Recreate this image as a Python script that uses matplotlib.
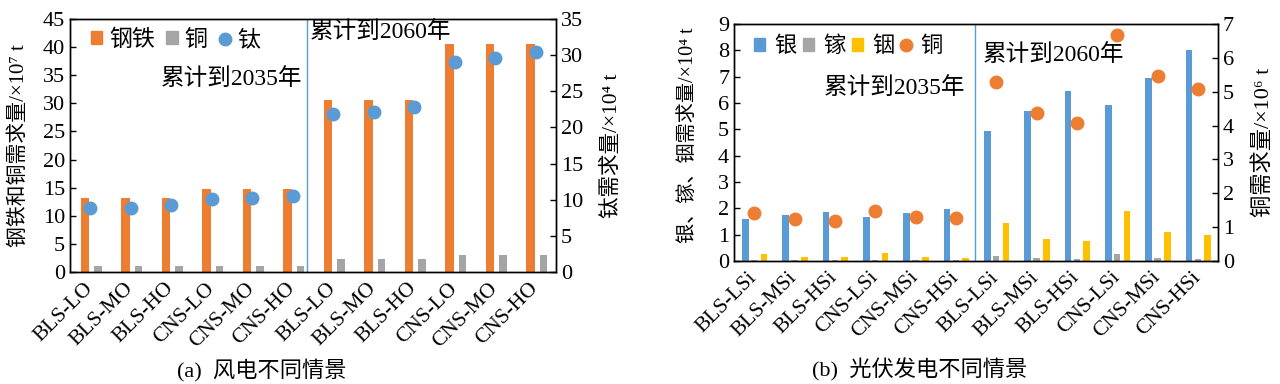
import matplotlib
matplotlib.use("Agg")
import matplotlib.pyplot as plt
import matplotlib.transforms as mtransforms
import numpy as np
from matplotlib.lines import Line2D
from matplotlib.patches import Patch

plt.rcParams['font.family'] = ['Liberation Serif', 'Noto Sans CJK SC']
plt.rcParams['font.size'] = 16

# (a) wind power scenarios
wind_labels = ['BLS-LO', 'BLS-MO', 'BLS-HO', 'CNS-LO', 'CNS-MO', 'CNS-HO'] * 2
steel = [13.2, 13.2, 13.2, 14.8, 14.8, 14.8, 30.6, 30.6, 30.6, 40.5, 40.5, 40.5]
copper_w = [1.0, 1.0, 1.0, 1.1, 1.1, 1.1, 2.4, 2.4, 2.4, 3.1, 3.1, 3.1]
titanium = [8.9, 8.9, 9.3, 10.1, 10.2, 10.5, 21.9, 22.2, 22.8, 29.0, 29.6, 30.5]

# (b) photovoltaic scenarios
pv_labels = ['BLS-LSi', 'BLS-MSi', 'BLS-HSi', 'CNS-LSi', 'CNS-MSi', 'CNS-HSi'] * 2
silver = [1.58, 1.75, 1.87, 1.68, 1.81, 1.98, 4.92, 5.68, 6.46, 5.93, 6.96, 8.02]
gallium = [0.02, 0.02, 0.02, 0.03, 0.02, 0.02, 0.20, 0.10, 0.07, 0.28, 0.13, 0.09]
indium = [0.27, 0.16, 0.15, 0.29, 0.16, 0.13, 1.43, 0.85, 0.76, 1.91, 1.11, 0.99]
copper_pv = [1.41, 1.24, 1.19, 1.49, 1.31, 1.26, 5.28, 4.37, 4.09, 6.67, 5.45, 5.08]

ORANGE = '#ED7D31'
GREY = '#A5A5A5'
BLUE = '#5B9BD5'
YELLOW = '#FFC000'

fig = plt.figure(figsize=(12.8, 3.84), dpi=100)


def style(ax, ax2, labels):
    for a in (ax, ax2):
        a.tick_params(direction='in', length=4, width=1, labelsize=16)
        for s in a.spines.values():
            s.set_linewidth(1.0)
    ax.set_xlim(-0.5, 11.5)
    ax.set_xticks(np.arange(len(labels)))
    ax.set_xticklabels(labels, rotation=45, ha='right', rotation_mode='anchor',
                       fontsize=15.5)
    ax.tick_params(axis='x', length=0, pad=5)
    # shift the rotated labels a bit to the left, like Excel does
    shift = mtransforms.ScaledTranslation(-7 / 100, 0, fig.dpi_scale_trans)
    for lab in ax.get_xticklabels():
        lab.set_transform(lab.get_transform() + shift)


# ---- panel (a)
ax = fig.add_axes([70 / 1280, 112 / 384, 486 / 1280, 253 / 384])
x = np.arange(len(wind_labels))
ax.bar(x - 0.13, steel, width=0.21, color=ORANGE)
ax.bar(x + 0.19, copper_w, width=0.18, color=GREY)
ax.set_ylim(0, 45)
ax.set_yticks(range(0, 46, 5))
ax.set_ylabel('钢铁和铜需求量/×10⁷ t', fontsize=15)
ax.yaxis.set_label_coords(-0.084, 0.5)
ax.axvline(5.34, color=BLUE, lw=1)
ax2 = ax.twinx()
ax2.plot(x, titanium, 'o', color=BLUE, ms=9)
ax2.set_ylim(0, 35)
ax2.set_yticks(range(0, 36, 5))
ax2.set_ylabel('钛需求量/×10⁴ t', fontsize=15.5)
ax2.yaxis.set_label_coords(1.095, 0.5)
style(ax, ax2, wind_labels)
ax.text(5.23, 34.3, '累计到2035年', ha='right', va='center', fontsize=17)
ax.text(5.43, 42.7, '累计到2060年', ha='left', va='center', fontsize=17)
handles = [Patch(color=ORANGE), Patch(color=GREY),
           Line2D([], [], marker='o', ls='', color=BLUE, ms=9)]
ax.legend(handles, ['钢铁', '铜', '钛'], loc='upper left', ncol=3, frameon=False,
          handlelength=0.5, handleheight=0.5, handletextpad=0.3,
          columnspacing=0.5, fontsize=16.5, bbox_to_anchor=(0.0, 1.04))
fig.text(262 / 1280, 1 - 370 / 384, '(a)  风电不同情景', ha='center', va='center', fontsize=16)

# ---- panel (b)
bx = fig.add_axes([734 / 1280, 123 / 384, 484 / 1280, 237 / 384])
x = np.arange(len(pv_labels))
bx.bar(x - 0.22, silver, width=0.165, color=BLUE)
bx.bar(x + 0.0, gallium, width=0.165, color=GREY)
bx.bar(x + 0.24, indium, width=0.165, color=YELLOW)
bx.set_ylim(0, 9)
bx.set_yticks(range(0, 10))
bx.set_ylabel('银、镓、铟需求量/×10⁴ t', fontsize=14.5)
bx.yaxis.set_label_coords(-0.074, 0.53)
bx.axvline(5.48, color=BLUE, lw=1)
bx2 = bx.twinx()
bx2.plot(x, copper_pv, 'o', color=ORANGE, ms=9)
bx2.set_ylim(0, 7)
bx2.set_yticks(range(0, 8))
bx2.set_ylabel('铜需求量/×10⁶ t', fontsize=16)
bx2.yaxis.set_label_coords(1.072, 0.5)
style(bx, bx2, pv_labels)
bx.text(5.23, 6.58, '累计到2035年', ha='right', va='center', fontsize=17)
bx.text(5.68, 7.83, '累计到2060年', ha='left', va='center', fontsize=17)
handles = [Patch(color=BLUE), Patch(color=GREY), Patch(color=YELLOW),
           Line2D([], [], marker='o', ls='', color=ORANGE, ms=9)]
bx.legend(handles, ['银', '镓', '铟', '铜'], loc='upper left', ncol=4, frameon=False,
          handlelength=0.5, handleheight=0.5, handletextpad=0.4,
          columnspacing=0.3, fontsize=16, bbox_to_anchor=(0.0, 1.03))
fig.text(920 / 1280, 1 - 370 / 384, '(b)  光伏发电不同情景', ha='center', va='center', fontsize=16)

fig.savefig('out.png', dpi=100)
